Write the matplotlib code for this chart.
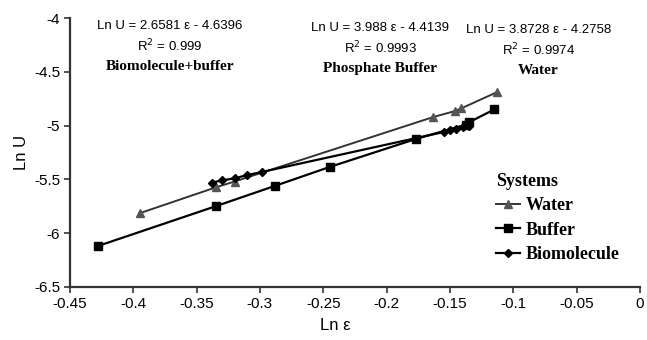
import matplotlib
matplotlib.use("Agg")
import matplotlib.pyplot as plt

# data
water_x = [-0.395, -0.335, -0.32, -0.163, -0.146, -0.141, -0.113]
water_y = [-5.815, -5.575, -5.52, -4.92, -4.865, -4.84, -4.69]

buffer_x = [-0.428, -0.335, -0.288, -0.245, -0.177, -0.137, -0.135, -0.115]
buffer_y = [-6.12, -5.75, -5.56, -5.385, -5.125, -4.99, -4.97, -4.85]

bio_x = [-0.338, -0.33, -0.32, -0.31, -0.298, -0.155, -0.15, -0.145, -0.14, -0.135]
bio_y = [-5.53, -5.51, -5.49, -5.46, -5.43, -5.06, -5.04, -5.03, -5.01, -5.0]

x_ticks = [-0.45, -0.4, -0.35, -0.3, -0.25, -0.2, -0.15, -0.1, -0.05, 0]
y_ticks = [-6.5, -6, -5.5, -5, -4.5, -4]

sans = "Liberation Sans"
serif = "Liberation Serif"

fig = plt.figure(figsize=(6.47, 3.40), dpi=100)
ax = fig.add_axes([0.108, 0.156, 0.881, 0.791])

ax.plot(water_x, water_y, "-", color="#333333", lw=1.4, marker="^", ms=5.5,
        mfc="#555555", mec="#555555", label="Water")
ax.plot(buffer_x, buffer_y, "-", color="black", lw=1.6, marker="s", ms=5.5,
        label="Buffer")
ax.plot(bio_x, bio_y, "-", color="black", lw=1.6, marker="D", ms=4,
        label="Biomolecule")

ax.set_xlim(-0.45, 0)
ax.set_ylim(-6.5, -4)
ax.set_xticks(x_ticks)
ax.set_xticklabels([f"{v:g}" for v in x_ticks], family=sans, fontsize=11)
ax.set_yticks(y_ticks)
ax.set_yticklabels([f"{v:g}" for v in y_ticks], family=sans, fontsize=11)
ax.tick_params(direction="out", length=4, width=1.2, color="#333333", pad=3)
for s in ["top", "right"]:
    ax.spines[s].set_visible(False)
for s in ["left", "bottom"]:
    ax.spines[s].set_linewidth(1.6)
    ax.spines[s].set_color("#333333")

ax.set_xlabel("Ln ε", family=sans, fontsize=12)
ax.set_ylabel("Ln U", family=sans, fontsize=12)
ax.xaxis.set_label_coords(0.465, -0.115)
ax.yaxis.set_label_coords(-0.072, 0.5)

# equation labels
notes = [
    (-0.371, "Ln U = 2.6581 ε - 4.6396", "R$^2$ = 0.999", "Biomolecule+buffer", 0),
    (-0.205, "Ln U = 3.988 ε - 4.4139", "R$^2$ = 0.9993", "Phosphate Buffer", 0.02),
    (-0.08, "Ln U = 3.8728 ε - 4.2758", "R$^2$ = 0.9974", "Water", 0.04),
]
for xc, eq, r2, name, dy in notes:
    ax.text(xc, -4.07 - dy, eq, family=sans, fontsize=9.5, ha="center", va="center")
    ax.text(xc, -4.26 - dy, r2, family=sans, fontsize=9.5, ha="center", va="center")
    ax.text(xc, -4.45 - dy, name, family=serif, fontsize=11, weight="bold",
            ha="center", va="center")

leg = ax.legend(loc="upper left", bbox_to_anchor=(0.735, 0.45), frameon=False,
                title="Systems", handlelength=1.3, handletextpad=0.35,
                labelspacing=0.4, borderaxespad=0,
                prop={"family": serif, "weight": "bold", "size": 13})
leg.get_title().set_fontproperties({"family": serif, "weight": "bold", "size": 13})
leg._legend_box.align = "left"

fig.savefig("out.png", dpi=100)
